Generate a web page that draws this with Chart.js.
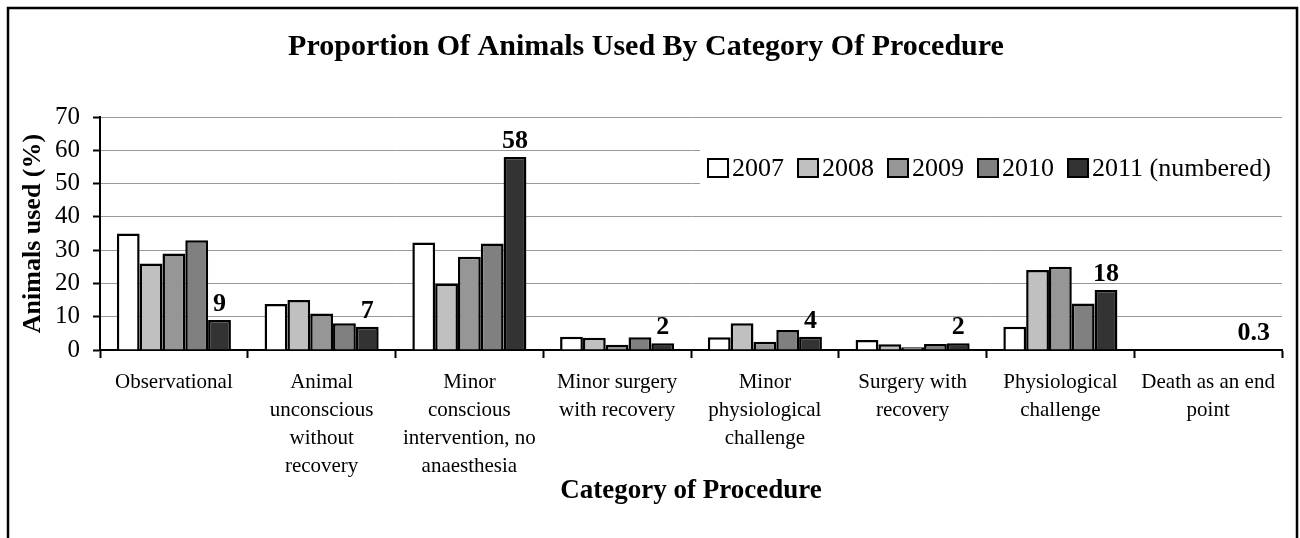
<!DOCTYPE html>
<html>
<head>
<meta charset="utf-8">
<script src="https://cdn.jsdelivr.net/npm/chart.js@4.4.1/dist/chart.umd.min.js"></script>
<style>
  html, body { margin: 0; padding: 0; background: #fff; }
  #wrap { width: 1300px; height: 538px; }
</style>
</head>
<body>
<div id="wrap"><canvas id="chart" width="1300" height="538"></canvas></div>
<script>
// Données
const categories = [
    ["Observational"],
    ["Animal", "unconscious", "without", "recovery"],
    ["Minor", "conscious", "intervention, no", "anaesthesia"],
    ["Minor surgery", "with recovery"],
    ["Minor", "physiological", "challenge"],
    ["Surgery with", "recovery"],
    ["Physiological", "challenge"],
    ["Death as an end", "point"]
];
const seriesLabels = ["2007", "2008", "2009", "2010", "2011 (numbered)"];
const values2007 = [35, 13.8, 32.3, 4, 3.8, 3, 7, 0];
const values2008 = [26, 15, 20, 3.7, 8, 1.7, 24, 0];
const values2009 = [29, 11, 28, 1.6, 2.5, 0.8, 25, 0];
const values2010 = [33, 8, 32, 3.8, 6, 1.8, 14, 0.1];
const values2011 = [9, 7, 58, 2, 4, 2, 18, 0.3];
const yTicks = [0, 10, 20, 30, 40, 50, 60, 70];

const seriesColors = ["#ffffff", "#c0c0c0", "#969696", "#808080", "#333333"];
const FONT = "'Liberation Serif', 'Times New Roman', serif";

Chart.defaults.color = "#000";
Chart.defaults.font.family = FONT;

const allValues = [values2007, values2008, values2009, values2010, values2011];

// Fond blanc et cadre extérieur
const framePlugin = {
    id: "frame",
    beforeDraw(chart) {
        const ctx = chart.ctx;
        ctx.save();
        ctx.fillStyle = "#fff";
        ctx.fillRect(0, 0, chart.width, chart.height);
        ctx.strokeStyle = "#000";
        ctx.lineWidth = 2.5;
        ctx.strokeRect(8, 8, 1289, 540);
        ctx.restore();
    }
};

// Étiquettes de valeur pour la série 2011
const valueLabelPlugin = {
    id: "valueLabels",
    afterDatasetsDraw(chart) {
        const ctx = chart.ctx;
        const meta = chart.getDatasetMeta(4);
        ctx.save();
        ctx.font = "bold 26px " + FONT;
        ctx.fillStyle = "#000";
        ctx.textAlign = "center";
        ctx.textBaseline = "alphabetic";
        meta.data.forEach((bar, i) => {
            ctx.fillText(String(values2011[i]), bar.x, bar.y - 9);
        });
        ctx.restore();
    }
};

// Légende placée dans la zone du graphique
const legendPlugin = {
    id: "insideLegend",
    afterDraw(chart) {
        const ctx = chart.ctx;
        ctx.save();
        ctx.fillStyle = "#fff";
        ctx.fillRect(700, 140, chart.chartArea.right - 700, 56);
        ctx.font = "26px " + FONT;
        ctx.textBaseline = "middle";
        let x = 708;
        const y = 168;
        chart.data.datasets.forEach(ds => {
            ctx.fillStyle = ds.backgroundColor;
            ctx.fillRect(x, y - 9, 20, 18);
            ctx.strokeStyle = "#000";
            ctx.lineWidth = 2;
            ctx.strokeRect(x, y - 9, 20, 18);
            ctx.fillStyle = "#000";
            ctx.fillText(ds.label, x + 24, y + 1);
            x += 24 + ctx.measureText(ds.label).width + 14;
        });
        ctx.restore();
    }
};

const ctx = document.getElementById("chart").getContext("2d");
new Chart(ctx, {
    type: "bar",
    data: {
        labels: categories,
        datasets: seriesLabels.map((label, i) => ({
            label: label,
            data: allValues[i],
            backgroundColor: seriesColors[i],
            borderColor: "#000",
            borderWidth: 2.5,
            borderSkipped: "start",
            categoryPercentage: 0.772,
            barPercentage: 1.0
        }))
    },
    options: {
        responsive: false,
        animation: false,
        layout: { padding: { top: 10, left: 10, right: 18, bottom: 10 } },
        plugins: {
            legend: { display: false },
            tooltip: { enabled: false },
            title: {
                display: true,
                text: "Proportion Of Animals Used By Category Of Procedure",
                font: { size: 30, weight: "bold", family: FONT },
                color: "#000",
                padding: { top: 19, bottom: 52 }
            }
        },
        scales: {
            x: {
                offset: true,
                grid: {
                    drawOnChartArea: false,
                    drawTicks: true,
                    tickLength: 8,
                    tickColor: "#000",
                    tickWidth: 2
                },
                border: { color: "#000", width: 2 },
                ticks: {
                    autoSkip: false,
                    maxRotation: 0,
                    minRotation: 0,
                    padding: 11,
                    color: "#000",
                    font: { size: 21, family: FONT, lineHeight: 1.33 }
                },
                title: {
                    display: true,
                    text: "Category of Procedure",
                    font: { size: 27, weight: "bold", family: FONT },
                    color: "#000",
                    padding: { top: 0, bottom: 21 }
                },
                afterFit(scale) {
                    scale.height = 538 - 350 - 10;
                }
            },
            y: {
                min: 0,
                max: 70,
                afterBuildTicks(scale) {
                    scale.ticks = yTicks.map(v => ({ value: v }));
                },
                grid: {
                    color: "#999999",
                    lineWidth: 1,
                    borderDash: [1, 1],
                    tickLength: 7,
                    tickColor: "#000",
                    tickWidth: 2,
                    tickBorderDash: []
                },
                border: { color: "#000", width: 2 },
                ticks: {
                    padding: 13,
                    color: "#000",
                    font: { size: 25, family: FONT }
                },
                title: {
                    display: true,
                    text: "Animals used (%)",
                    font: { size: 26, weight: "bold", family: FONT },
                    color: "#000",
                    padding: { top: 8, bottom: 0 }
                },
                afterFit(scale) {
                    scale.width = 90;
                }
            }
        }
    },
    plugins: [framePlugin, valueLabelPlugin, legendPlugin]
});
</script>
</body>
</html>
